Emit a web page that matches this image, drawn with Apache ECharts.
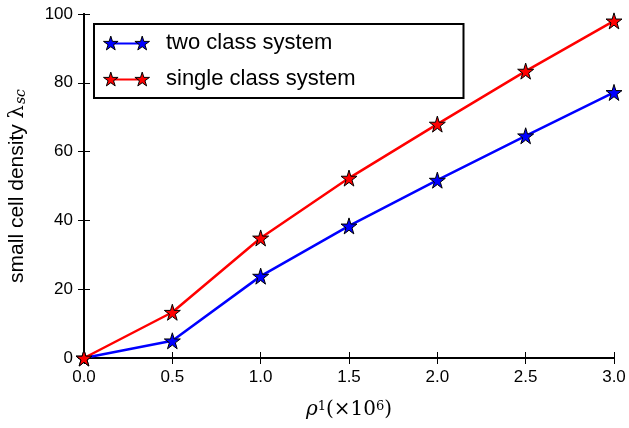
<!DOCTYPE html>
<html lang="en">
<head>
    <meta charset="UTF-8">
    <title>small cell density</title>
    <script src="https://cdn.jsdelivr.net/npm/echarts@6/dist/echarts.min.js"></script>
    <style>
        html, body { margin: 0; padding: 0; background: #fff; }
        #chart { width: 629px; height: 428px; }
    </style>
</head>
<body>
<div id="chart"></div>
<script>
    // data
    let xValues = [0, 0.5, 1.0, 1.5, 2.0, 2.5, 3.0];
    let twoClass = [0, 5.0, 23.8, 38.4, 51.7, 64.6, 77.2];
    let singleClass = [0, 13.3, 34.9, 52.3, 68.0, 83.4, 98.0];
    let seriesNames = ['two class system', 'single class system'];

    let star = 'path://M50,0 L61,35 L98,35 L68,57 L79,91 L50,70 L21,91 L32,57 L2,35 L39,35 Z';
    // legend icons: two stars, and the short line between them (same frame so they line up)
    let legendStars = 'path://M7.5,0 L9.15,5.25 L14.7,5.25 L10.2,8.55 L11.85,13.65 L7.5,10.5 L3.15,13.65 L4.8,8.55 L0.3,5.25 L5.85,5.25 Z' +
        ' M38.5,0 L40.15,5.25 L45.7,5.25 L41.2,8.55 L42.85,13.65 L38.5,10.5 L34.15,13.65 L35.8,8.55 L31.3,5.25 L36.85,5.25 Z';
    let legendBar = 'path://M0.3,0 L0.31,0 L0.3,0.01 Z M45.7,13.65 L45.69,13.65 L45.7,13.64 Z M10,6.3 L36,6.3 L36,8.3 L10,8.3 Z';
    let font = 'Liberation Sans, Helvetica, Arial, sans-serif';
    let serif = 'DejaVu Serif, serif';

    function pairs(xs, ys) {
        return xs.map((x, i) => [x, ys[i]]);
    }

    let tickStyle = {show: true, inside: true, length: 6, lineStyle: {color: '#000', width: 1}};
    let lineStyle = {show: true, lineStyle: {color: '#000', width: 2}};

    let legendBase = {
        left: 94, top: 24,
        orient: 'vertical',
        padding: [8, 108, 8, 9],
        itemGap: 14,
        itemWidth: 46,
        itemHeight: 15,
        selectedMode: false,
        textStyle: {fontSize: 22, fontFamily: font, color: '#000', padding: [0, 0, 0, 12]},
        data: seriesNames
    };

    let myChart = echarts.init(document.getElementById('chart'));
    let option = {
        animation: false,
        grid: {left: 84, right: 15, top: 14, bottom: 70, outerBoundsMode: 'none', containLabel: false},
        legend: [
            Object.assign({}, legendBase, {
                icon: legendBar,
                borderColor: '#000', borderWidth: 2, backgroundColor: '#fff',
                itemStyle: {borderWidth: 0},
                z: 5
            }),
            Object.assign({}, legendBase, {
                icon: legendStars,
                borderWidth: 0, backgroundColor: 'transparent',
                textStyle: Object.assign({}, legendBase.textStyle, {color: 'transparent'}),
                itemStyle: {borderColor: '#000', borderWidth: 1},
                z: 6
            })
        ],
        xAxis: [{
            type: 'value', min: 0, max: 3, interval: 0.5,
            name: '{i|ρ}{s|1}{n|(×10}{s|6}{n|)}', nameLocation: 'middle', nameGap: 42,
            nameTextStyle: {
                fontSize: 20, color: '#000',
                rich: {
                    i: {fontSize: 20, fontFamily: serif, fontStyle: 'italic', color: '#000'},
                    n: {fontSize: 20, fontFamily: serif, color: '#000'},
                    s: {fontSize: 13, fontFamily: serif, color: '#000', verticalAlign: 'top'}
                }
            },
            axisLine: lineStyle, axisTick: tickStyle, splitLine: {show: false},
            axisLabel: {fontSize: 17, fontFamily: font, color: '#000', margin: 11,
                formatter: v => v.toFixed(1)}
        }, {
            type: 'value', position: 'top', min: 0, max: 3, interval: 0.5,
            axisLine: lineStyle, axisTick: tickStyle, splitLine: {show: false},
            axisLabel: {show: false}
        }],
        yAxis: [{
            type: 'value', min: 0, max: 100, interval: 20,
            name: '{n|small cell density }{l|λ}{s|sc}', nameLocation: 'middle', nameGap: 56,
            nameTextStyle: {
                fontSize: 21, color: '#000',
                rich: {
                    n: {fontSize: 21, fontFamily: font, color: '#000'},
                    l: {fontSize: 21, fontFamily: serif, color: '#000'},
                    s: {fontSize: 14, fontFamily: serif, fontStyle: 'italic', color: '#000',
                        verticalAlign: 'bottom', padding: [6, 0, 0, 1]}
                }
            },
            axisLine: lineStyle, axisTick: tickStyle, splitLine: {show: false},
            axisLabel: {fontSize: 17, fontFamily: font, color: '#000', margin: 11}
        }, {
            type: 'value', position: 'right', min: 0, max: 100, interval: 20,
            axisLine: lineStyle, axisTick: tickStyle, splitLine: {show: false},
            axisLabel: {show: false}
        }],
        series: [{
            name: seriesNames[0],
            type: 'line',
            data: pairs(xValues, twoClass),
            symbol: star, symbolSize: 16,
            lineStyle: {color: '#0000ff', width: 2.5},
            itemStyle: {color: '#0000ff', borderColor: '#000', borderWidth: 1},
            z: 3
        }, {
            name: seriesNames[1],
            type: 'line',
            data: pairs(xValues, singleClass),
            symbol: star, symbolSize: 16,
            lineStyle: {color: '#ff0000', width: 2.5},
            itemStyle: {color: '#ff0000', borderColor: '#000', borderWidth: 1},
            z: 4
        }]
    };

    myChart.setOption(option);
</script>
</body>
</html>
